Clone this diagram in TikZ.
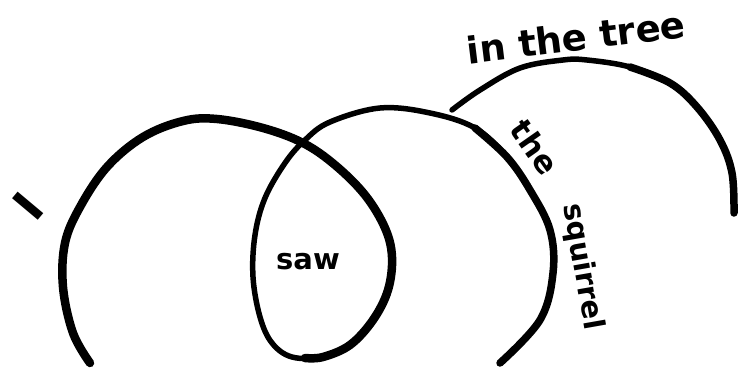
\documentclass[tikz,border=0pt]{standalone}
\usepackage{fontspec}
\setmainfont{DejaVu Sans}
\begin{document}
\begin{tikzpicture}[x=1pt,y=1pt,
  stroke/.style={line width=#1, line cap=round, line join=round},
  lab/.style={font=\fontsize{#1}{#1}\selectfont\bfseries, inner sep=0pt}]
\useasboundingbox (0,0) rectangle (754,373);
% main loop: big left arc, loop around "saw", right arc
\draw[stroke=5.5pt] plot[smooth, tension=0.6] coordinates {
 (90,10) (73,40) (63,86) (65,130) (80,166) (107,206) (143,236) (183,252) (217,254)
 (263,245) (303,230) (335,208) (365,178) (385,145) (392,116) (388,83) (373,53)
 (350,28) (323,16) (292,16) (272,30) (260,56) (253,96) (255,138) (265,175)
 (285,210) (305,233) (330,251) (380,265) (430,260) (475,245) (507,216) (530,183)
 (550,143) (553,100) (540,53) (500,10)};
\draw[stroke=8.5pt] plot[smooth, tension=0.6] coordinates {
 (90,10) (73,40) (63,86) (65,130) (80,166) (107,206) (143,236) (183,252) (217,254)
 (263,245) (303,230) (335,208) (365,178) (385,145) (392,116) (388,83) (373,53)
 (350,28) (323,16) (305,15)};
\draw[stroke=7.5pt] plot[smooth, tension=0.6] coordinates {
 (475,245) (507,216) (530,183) (550,143) (553,100) (540,53) (500,10)};
% third arc
\draw[stroke=5.5pt] plot[smooth, tension=0.6] coordinates {
 (452,263) (480,283) (520,305) (563,313) (587,313) (630,306) (670,290) (697,266)
 (720,233) (732,200) (734,160)};
\draw[stroke=7.5pt] plot[smooth, tension=0.6] coordinates {
 (630,306) (670,290) (697,266) (720,233) (732,200) (734,160)};
% labels
\node[lab=46, rotate=50] (i) at (28,167) {I};
\node[lab=29] (saw) at (308,111) {saw};
\node[lab=37, rotate=7] (tree) at (576,336) {in the tree};
\node[lab=31, rotate=-55] (the) at (535,226) {the};
\node[lab=29, rotate=-80] (sq) at (582,106) {squirrel};
\end{tikzpicture}
\end{document}
